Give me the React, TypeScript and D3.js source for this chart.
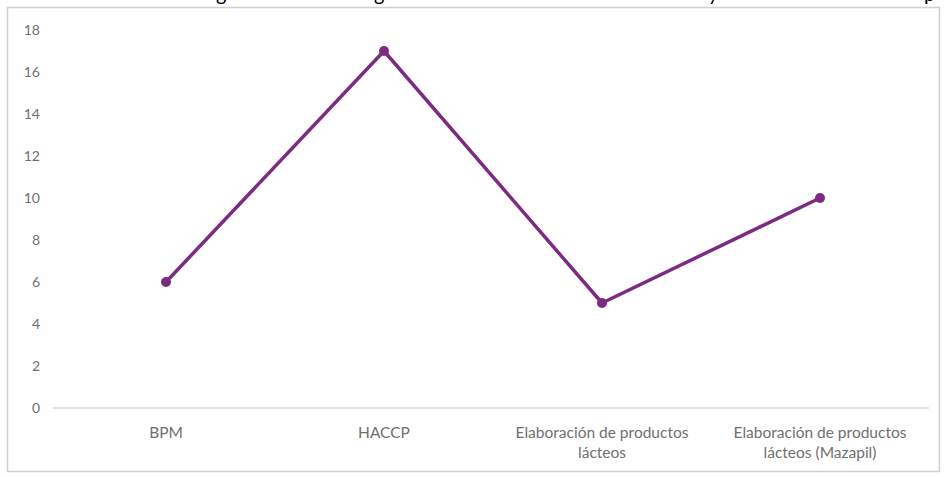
import { useEffect, useRef } from "react";
import * as d3 from "d3";

// categories and values
const categories = [
  "BPM",
  "HACCP",
  "Elaboración de productos lácteos",
  "Elaboración de productos lácteos (Mazapil)",
];
const values = [6, 17, 5, 10];
const yTicks = [0, 2, 4, 6, 8, 10, 12, 14, 16, 18];

// wrapped lines for the x labels
const labelLines = [
  ["BPM"],
  ["HACCP"],
  ["Elaboración de productos", "lácteos"],
  ["Elaboración de productos", "lácteos (Mazapil)"],
];

// descenders of the cut-off caption above the chart
const cutGlyphs = [
  { ch: "g", x: 216 },
  { ch: "g", x: 374 },
  { ch: "y", x: 708 },
  { ch: "p", x: 924 },
];

const W = 944;
const H = 477;
const FONT = "Lato, 'Open Sans', sans-serif";

export default function App() {
  const svgRef = useRef<SVGSVGElement>(null);

  useEffect(() => {
    const svg = d3.select(svgRef.current);
    svg.selectAll("*").remove();

    const margin = { top: 30, right: 15, bottom: 69, left: 57 };
    const w = W - margin.left - margin.right;

    const x = d3
      .scaleBand()
      .domain(categories)
      .range([margin.left, margin.left + w]);
    const y = d3
      .scaleLinear()
      .domain([0, 18])
      .range([408, margin.top]);

    svg.append("rect").attr("width", W).attr("height", H).attr("fill", "#ffffff");

    // frame of the chart area
    svg
      .append("rect")
      .attr("x", 7.5)
      .attr("y", 7.5)
      .attr("width", 932)
      .attr("height", 464)
      .attr("fill", "#ffffff")
      .attr("stroke", "#d0d0d0")
      .attr("stroke-width", 1.5);

    // cropped text from the page above
    svg
      .append("g")
      .selectAll("text")
      .data(cutGlyphs)
      .join("text")
      .attr("x", (d) => d.x)
      .attr("y", 1)
      .attr("font-family", FONT)
      .attr("font-size", 20)
      .attr("fill", "#000")
      .text((d) => d.ch);

    // y axis labels (no gridlines)
    const yAxis = d3
      .axisLeft(y)
      .tickValues(yTicks)
      .tickSize(0)
      .tickPadding(0);
    const gy = svg
      .append("g")
      .attr("transform", `translate(${40},0)`)
      .call(yAxis);
    gy.select(".domain").remove();
    gy.selectAll("text")
      .attr("font-family", FONT)
      .attr("font-size", 14)
      .attr("fill", "#707070");

    // x axis line
    svg
      .append("line")
      .attr("x1", margin.left - 4)
      .attr("x2", margin.left + w)
      .attr("y1", y(0))
      .attr("y2", y(0))
      .attr("stroke", "#d9d9d9")
      .attr("stroke-width", 1.5);

    // x labels
    const lab = svg
      .append("g")
      .selectAll("text")
      .data(categories)
      .join("text")
      .attr("text-anchor", "middle")
      .attr("font-family", FONT)
      .attr("font-size", 15.5)
      .attr("fill", "#707070");
    lab
      .selectAll("tspan")
      .data((d, i) => labelLines[i].map((t) => ({ t, c: d })))
      .join("tspan")
      .attr("x", (d) => x(d.c)! + x.bandwidth() / 2)
      .attr("y", (d, j) => 438 + j * 20)
      .text((d) => d.t);

    const line = d3
      .line<number>()
      .x((d, i) => x(categories[i])! + x.bandwidth() / 2)
      .y((d) => y(d));

    svg
      .append("path")
      .datum(values)
      .attr("d", line)
      .attr("fill", "none")
      .attr("stroke", "#7c2a82")
      .attr("stroke-width", 3.5)
      .attr("stroke-linejoin", "round");

    svg
      .append("g")
      .selectAll("circle")
      .data(values)
      .join("circle")
      .attr("cx", (d, i) => x(categories[i])! + x.bandwidth() / 2)
      .attr("cy", (d) => y(d))
      .attr("r", 5)
      .attr("fill", "#7c2a82");
  }, []);

  return (
    <svg
      ref={svgRef}
      width={W}
      height={H}
      style={{ position: "absolute", left: 0, top: 0, display: "block" }}
    />
  );
}
